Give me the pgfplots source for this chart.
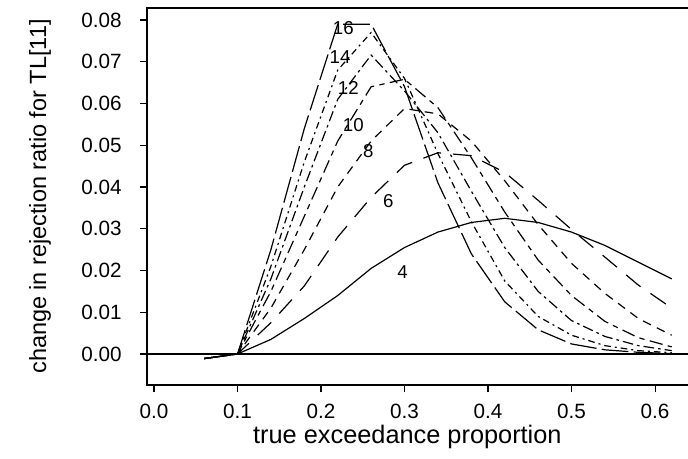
\documentclass[border=0pt]{standalone}
\usepackage{fontspec}
\setmainfont{Liberation Sans}
\usepackage{pgfplots}
\usepackage{pgfplotstable}
\pgfplotsset{compat=1.18}
\pgfplotstableread{
x      c4      c6      c8      c10     c12     c14     c16
0.06  -0.0011 -0.0011 -0.0011 -0.0011 -0.0011 -0.0011 -0.0011
0.10   0       0       0       0       0       0       0
0.14   0.0035  0.0075  0.011   0.015   0.018   0.021   0.025
0.18   0.0085  0.0163  0.025   0.033   0.040   0.046   0.054
0.22   0.014   0.028   0.040   0.051   0.061   0.068   0.079
0.26   0.0205  0.0375  0.051   0.064   0.0716  0.077   0.079
0.30   0.0255  0.0452  0.0588  0.0658  0.063   0.066   0.064
0.34   0.0292  0.0482  0.0575  0.059   0.053   0.048   0.041
0.38   0.0315  0.0475  0.051   0.047   0.039   0.0317  0.024
0.42   0.0325  0.0435  0.0415  0.034   0.0255  0.0175  0.0125
0.46   0.0315  0.0368  0.031   0.0225  0.015   0.009   0.0058
0.50   0.0292  0.0298  0.0217  0.014   0.008   0.0045  0.0024
0.54   0.026   0.0232  0.0145  0.0078  0.0042  0.002   0.001
0.58   0.022   0.0165  0.0085  0.0039  0.002   0.0008  0.0004
0.62   0.018   0.011   0.0045  0.0017  0.0008  0.0003  0.0001
}\datatable
\begin{document}
\begin{tikzpicture}
\begin{axis}[name=ax, at={(0,0)}, anchor=south west,
  scale only axis, width=418.6pt, height=282.75pt,
  xmin=-0.0084, xmax=0.66, ymin=-0.00743, ymax=0.08287,
  axis line style={line width=0.8pt},
  xtick={0,0.1,0.2,0.3,0.4,0.5,0.6},
  ytick={0,0.01,0.02,0.03,0.04,0.05,0.06,0.07,0.08},
  xticklabels={0.0,0.1,0.2,0.3,0.4,0.5,0.6},
  yticklabels={0.00,0.01,0.02,0.03,0.04,0.05,0.06,0.07,0.08},
  tick align=outside, tickpos=left,
  major tick length=5.5pt,
  tick style={line width=0.8pt, black},
  ticklabel style={font=\fontsize{15.5}{15.5}\selectfont},
  xticklabel style={yshift=-5.5pt},
  yticklabel style={xshift=-10pt},
  xlabel={true exceedance proportion},
  ylabel={change in rejection ratio for TL[11]},
  label style={font=\fontsize{17.6}{17.6}\selectfont},
  xlabel style={font=\fontsize{19}{19}\selectfont, inner sep=0pt, xshift=-14pt, yshift=-1pt},
  ylabel style={yshift=16pt},
  every axis plot/.append style={line width=0.9pt, black},
  clip=true,
]
\addplot[solid] coordinates {(-0.1,0) (0.8,0)};
\addplot[solid] table[x=x,y=c4] {\datatable};
\addplot[dash pattern=on 14pt off 9pt] table[x=x,y=c6] {\datatable};
\addplot[dash pattern=on 6.5pt off 5pt] table[x=x,y=c8] {\datatable};
\addplot[dash pattern=on 10pt off 4pt on 4pt off 4pt] table[x=x,y=c10] {\datatable};
\addplot[dash pattern=on 2pt off 3pt on 8pt off 3pt] table[x=x,y=c12] {\datatable};
\addplot[dash pattern=on 1.5pt off 3pt on 5pt off 3pt] table[x=x,y=c14] {\datatable};
\addplot[dash pattern=on 20pt off 4pt] table[x=x,y=c16] {\datatable};
\node[font=\fontsize{14}{14}\selectfont] at (axis cs:0.2267,0.078) {16};
\node[font=\fontsize{14}{14}\selectfont] at (axis cs:0.2228,0.0712) {14};
\node[font=\fontsize{14}{14}\selectfont] at (axis cs:0.2327,0.0636) {12};
\node[font=\fontsize{14}{14}\selectfont] at (axis cs:0.2387,0.0549) {10};
\node[font=\fontsize{14}{14}\selectfont] at (axis cs:0.2567,0.0486) {8};
\node[font=\fontsize{14}{14}\selectfont] at (axis cs:0.2806,0.0366) {6};
\node[font=\fontsize{14}{14}\selectfont] at (axis cs:0.2978,0.0195) {4};
\end{axis}
\pgfresetboundingbox
\useasboundingbox ([xshift=-110.25pt,yshift=-54.75pt]ax.south west) rectangle ([xshift=405.75pt,yshift=288.75pt]ax.south west);
\end{tikzpicture}
\end{document}
